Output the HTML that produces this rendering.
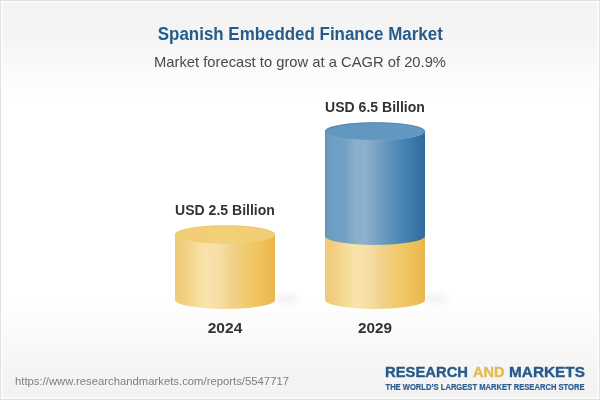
<!DOCTYPE html>
<html><head><meta charset="utf-8">
<style>
html,body{margin:0;padding:0;width:600px;height:400px;overflow:hidden;background:#fff}
svg{display:block;will-change:transform}
text{font-family:"Liberation Sans",sans-serif}
</style></head>
<body>
<svg width="600" height="400" viewBox="0 0 600 400">
<defs>
<linearGradient id="bg" x1="0" y1="0" x2="0" y2="1">
<stop offset="0" stop-color="#f3f3f3"/>
<stop offset="0.09" stop-color="#f4f4f4"/>
<stop offset="0.14" stop-color="#f8f8f9"/>
<stop offset="0.2" stop-color="#fcfcfc"/>
<stop offset="0.245" stop-color="#ffffff"/>
<stop offset="0.75" stop-color="#ffffff"/>
<stop offset="0.9" stop-color="#f6f6f6"/>
<stop offset="1" stop-color="#f2f2f2"/>
</linearGradient>
<linearGradient id="yb" x1="0" y1="0" x2="1" y2="0">
<stop offset="0" stop-color="#efca78"/>
<stop offset="0.1" stop-color="#f2cf82"/>
<stop offset="0.2" stop-color="#f5da95"/>
<stop offset="0.3" stop-color="#f9e3ad"/>
<stop offset="0.45" stop-color="#f6dda2"/>
<stop offset="0.57" stop-color="#f1d28a"/>
<stop offset="0.72" stop-color="#f0ca6c"/>
<stop offset="0.87" stop-color="#efc15a"/>
<stop offset="1" stop-color="#e8b64e"/>
</linearGradient>
<linearGradient id="yt" x1="0" y1="0" x2="1" y2="0">
<stop offset="0" stop-color="#f1cd76"/>
<stop offset="0.5" stop-color="#f2d077"/>
<stop offset="1" stop-color="#f0cd74"/>
</linearGradient>
<linearGradient id="bb" x1="0" y1="0" x2="1" y2="0">
<stop offset="0" stop-color="#6189ad"/>
<stop offset="0.02" stop-color="#6a9cc2"/>
<stop offset="0.2" stop-color="#72a1c6"/>
<stop offset="0.3" stop-color="#8aafcc"/>
<stop offset="0.4" stop-color="#8eb0cc"/>
<stop offset="0.5" stop-color="#7ca4c5"/>
<stop offset="0.65" stop-color="#5e92bb"/>
<stop offset="0.8" stop-color="#4582b0"/>
<stop offset="1" stop-color="#2f6a9e"/>
</linearGradient>
<linearGradient id="bt" x1="0" y1="0" x2="1" y2="0">
<stop offset="0" stop-color="#6096c0"/>
<stop offset="1" stop-color="#6398c2"/>
</linearGradient>
<filter id="blur" x="-50%" y="-50%" width="200%" height="200%"><feGaussianBlur stdDeviation="3"/></filter>
</defs>
<rect x="0" y="0" width="600" height="400" fill="url(#bg)"/>
<rect x="2" y="2" width="596" height="396" fill="none" stroke="#fcfcfc" stroke-opacity="0.8" stroke-width="2"/>
<rect x="0.5" y="0.5" width="599" height="399" fill="none" stroke="#e2e2e2" stroke-width="1"/>

<text x="300.3" y="40" text-anchor="middle" font-weight="bold" font-size="18" fill="#275c8a" textLength="285" lengthAdjust="spacingAndGlyphs">Spanish Embedded Finance Market</text>
<text x="300" y="66.7" text-anchor="middle" font-size="15" fill="#494949" textLength="292" lengthAdjust="spacingAndGlyphs">Market forecast to grow at a CAGR of 20.9%</text>

<!-- shadows -->
<ellipse cx="286" cy="299" rx="12" ry="4.5" fill="#d8d8e0" opacity="0.35" filter="url(#blur)"/>
<ellipse cx="436" cy="299" rx="12" ry="4.5" fill="#d8d8e0" opacity="0.35" filter="url(#blur)"/>

<!-- 2024 cylinder -->
<path d="M175 234.5 L175 300 A50 9 0 0 0 275 300 L275 234.5 Z" fill="url(#yb)"/>
<ellipse cx="225" cy="234.5" rx="50" ry="9.2" fill="url(#yt)"/>
<path d="M175.4 234.5 A49.6 8.8 0 0 1 274.6 234.5" fill="none" stroke="#e3bb66" stroke-width="0.7" opacity="0.6"/>

<!-- 2029 cylinder -->
<path d="M325 236 L325 300 A50 9 0 0 0 425 300 L425 236 Z" fill="url(#yb)"/>
<path d="M325 131.3 L325 236 A50 9 0 0 0 425 236 L425 131.3 Z" fill="url(#bb)"/>
<ellipse cx="375" cy="131.3" rx="50" ry="9" fill="url(#bt)"/>
<path d="M325.4 131.3 A49.6 8.6 0 0 1 424.6 131.3" fill="none" stroke="#4b7aa3" stroke-width="0.8" opacity="0.8"/>
<path d="M327 133.5 A49 8.3 0 0 0 423 133.5" fill="none" stroke="#7eaed2" stroke-width="0.7" opacity="0.5"/>

<text x="225" y="214.7" text-anchor="middle" font-weight="bold" font-size="14" fill="#333" textLength="99.8" lengthAdjust="spacingAndGlyphs">USD 2.5 Billion</text>
<text x="375" y="111.5" text-anchor="middle" font-weight="bold" font-size="14" fill="#333" textLength="99.8" lengthAdjust="spacingAndGlyphs">USD 6.5 Billion</text>
<text x="225" y="332.9" text-anchor="middle" font-weight="bold" font-size="15" fill="#333" textLength="34.6" lengthAdjust="spacingAndGlyphs">2024</text>
<text x="375" y="332.9" text-anchor="middle" font-weight="bold" font-size="15" fill="#333" textLength="34" lengthAdjust="spacingAndGlyphs">2029</text>

<text x="15" y="384.8" font-size="11.6" fill="#7e7e7e" textLength="274" lengthAdjust="spacingAndGlyphs">https://www.researchandmarkets.com/reports/5547717</text>

<g stroke-width="0.35" stroke-linejoin="round">
<text x="385" y="377.3" font-weight="bold" font-size="15.2" fill="#26598a" stroke="#26598a" textLength="83" lengthAdjust="spacingAndGlyphs">RESEARCH</text>
<text x="473" y="377.3" font-weight="bold" font-size="15.2" fill="#e7b94d" stroke="#e7b94d" textLength="31.5" lengthAdjust="spacingAndGlyphs">AND</text>
<text x="509" y="377.3" font-weight="bold" font-size="15.2" fill="#26598a" stroke="#26598a" textLength="76" lengthAdjust="spacingAndGlyphs">MARKETS</text>
<text x="385.5" y="389.6" font-weight="bold" font-size="8.6" fill="#2b5e8e" stroke="#2b5e8e" stroke-width="0.2" textLength="199" lengthAdjust="spacingAndGlyphs">THE WORLD’S LARGEST MARKET RESEARCH STORE</text>
</g>
</svg>
</body></html>
